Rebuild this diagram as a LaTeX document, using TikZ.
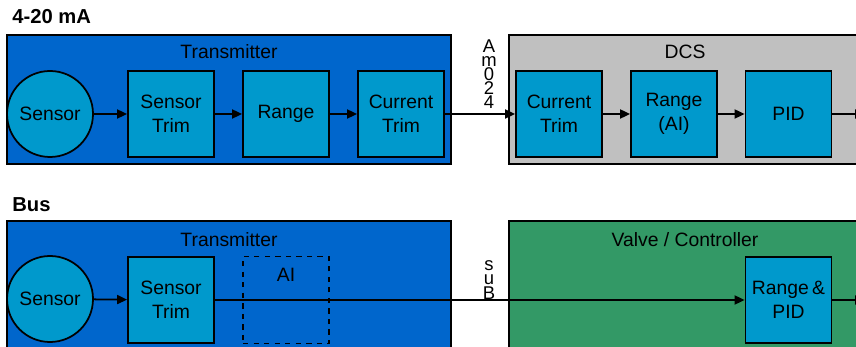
\documentclass[tikz,border=0pt]{standalone}
\usepackage{fontspec}
\setmainfont{Liberation Sans}
\usetikzlibrary{arrows.meta,positioning,shapes}

\definecolor{txblue}{HTML}{0066CC}
\definecolor{fnblue}{HTML}{0099CC}
\definecolor{dcsgray}{HTML}{C0C0C0}
\definecolor{valvegreen}{HTML}{339966}

\tikzset{
  panel/.style={draw,line width=1pt,inner sep=0pt},
  fblock/.style={draw,line width=1pt,fill=fnblue,minimum width=1.72cm,minimum height=1.72cm,align=center,inner sep=0pt},
  sens/.style={draw,circle,line width=1pt,fill=fnblue,minimum size=1.72cm,inner sep=0pt},
  flow/.style={-{Triangle[length=0.2cm,width=0.18cm]},line width=1pt},
  stack/.style={align=center,font=\fontsize{10.5}{8}\selectfont,inner sep=0pt}
}

\begin{document}
\begin{tikzpicture}[font=\fontsize{11}{13.5}\selectfont]
\useasboundingbox (0,0) rectangle (17.12,-6.94);
\clip (0,0) rectangle (17.12,-6.94);

% 4-20 mA loop
\node[anchor=west,inner sep=0pt,font=\fontsize{11.5}{13}\selectfont\bfseries] (t420) at (0.24,-0.34) {4-20 mA};
\node[panel,fill=txblue,minimum width=8.88cm,minimum height=2.58cm] (tx1) at (4.58,-1.99) {};
\node[panel,fill=dcsgray,minimum width=7.6cm,minimum height=2.58cm] (dcs) at (13.98,-1.99) {};
\node (tx1lbl) at (4.58,-1.04) {Transmitter};
\node (dcslbl) at (13.7,-1.04) {DCS};
\node[sens] (s1) at (1.0,-2.28) {Sensor};
\node[fblock] (st1) at (3.42,-2.28) {Sensor\\Trim};
\node[fblock] (rg1) at (5.72,-2.28) {Range};
\node[fblock] (ct1) at (8.02,-2.28) {Current\\Trim};
\node[fblock] (ct2) at (11.18,-2.28) {Current\\Trim};
\node[fblock] (rg2) at (13.48,-2.28) {Range\\(AI)};
\node[fblock] (pid1) at (15.77,-2.28) {PID};
\node[stack] (w420) at (9.78,-1.48) {A\\m\\0\\2\\4};
\coordinate (out1) at (17.3,-2.28);
\draw[flow] (s1) -- (st1);
\draw[flow] (st1) -- (rg1);
\draw[flow] (rg1) -- (ct1);
\draw[flow] (ct1) -- (ct2);
\draw[flow] (ct2) -- (rg2);
\draw[flow] (rg2) -- (pid1);
\draw[flow] (pid1) -- (out1);

% bus
\node[anchor=west,inner sep=0pt,font=\fontsize{11.5}{13}\selectfont\bfseries] (tbus) at (0.24,-4.1) {Bus};
\node[panel,fill=txblue,minimum width=8.88cm,minimum height=2.8cm] (tx2) at (4.58,-5.82) {};
\node[panel,fill=valvegreen,minimum width=7.6cm,minimum height=2.8cm] (vc) at (13.98,-5.82) {};
\node (tx2lbl) at (4.58,-4.8) {Transmitter};
\node (vclbl) at (13.7,-4.8) {Valve / Controller};
\node[sens] (s2) at (1.0,-5.98) {Sensor};
\node[fblock] (st2) at (3.42,-6.0) {Sensor\\Trim};
\node[draw,dashed,line width=1pt,minimum width=1.72cm,minimum height=1.74cm] (ai) at (5.72,-6.0) {};
\node (ailbl) at (5.72,-5.5) {AI};
\node[fblock] (rp) at (15.77,-6.0) {Range\,\&\\PID};
\node[stack] (wbus) at (9.78,-5.6) {s\\u\\B};
\coordinate (out2) at (17.3,-6.0);
\draw[flow] (s2) -- (st2);
\draw[flow] (st2) -- (rp);
\draw[flow] (rp) -- (out2);
\end{tikzpicture}
\end{document}
